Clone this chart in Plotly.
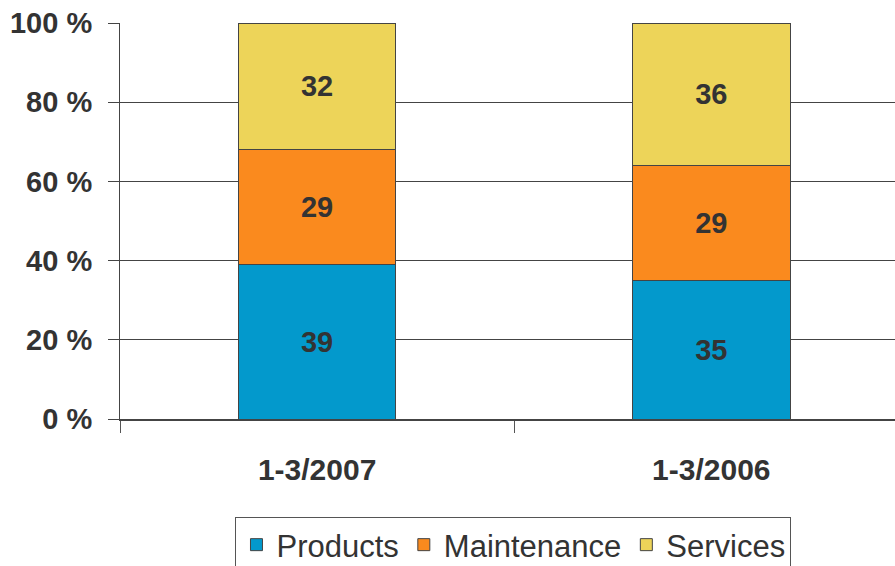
import plotly.graph_objects as go

categories = ["1-3/2007", "1-3/2006"]
products = [39, 35]
maintenance = [29, 29]
services = [32, 36]
series_names = ["Products", "Maintenance", "Services"]
colors = ["#0399CC", "#FA8A1E", "#EDD459"]
ytick_vals = [0, 20, 40, 60, 80, 100]
ytick_labels = ["0 %", "20 %", "40 %", "60 %", "80 %", "100 %"]

FONT = "Liberation Sans, Arial, sans-serif"
TXT = "#333333"

fig = go.Figure()
for name, vals, col in zip(series_names, [products, maintenance, services], colors):
    fig.add_trace(go.Bar(
        x=categories, y=vals, name=name,
        marker=dict(color=col, line=dict(color="#444444", width=1)),
        width=0.40,
        text=[str(v) for v in vals],
        textposition="inside", insidetextanchor="middle",
        textfont=dict(family=FONT, size=29, color=TXT, weight="bold"),
        textangle=0,
    ))

fig.update_layout(
    barmode="stack",
    width=895, height=566,
    margin=dict(l=120, r=0, t=23, b=147),
    paper_bgcolor="white", plot_bgcolor="white",
    font=dict(family=FONT, color=TXT),
    legend=dict(
        orientation="h", traceorder="normal",
        x=0.149, xanchor="left",
        yref="container", y=(566 - 517) / 566, yanchor="top",
        bordercolor="#555555", borderwidth=1,
        font=dict(family=FONT, size=31, color=TXT),
        itemwidth=30,
    ),
    showlegend=True,
)
fig.update_xaxes(
    range=[-0.5, 1.466],
    showline=True, linecolor="#444444", linewidth=2,
    ticks="outside", tickson="boundaries", ticklen=12, tickcolor="#555555", tickwidth=1,
    tickfont=dict(family=FONT, size=30, color=TXT, weight="bold"),
    ticklabelstandoff=23,
    showgrid=False,
)
fig.update_yaxes(
    range=[0, 100],
    tickmode="array", tickvals=ytick_vals, ticktext=ytick_labels,
    showline=True, linecolor="#444444", linewidth=1,
    ticks="outside", ticklen=11, tickcolor="#444444",
    tickfont=dict(family=FONT, size=29, color=TXT, weight="bold"),
    ticklabelstandoff=10,
    showgrid=True, gridcolor="#444444", gridwidth=1,
    zeroline=False,
)
fig.write_html("out.html")
